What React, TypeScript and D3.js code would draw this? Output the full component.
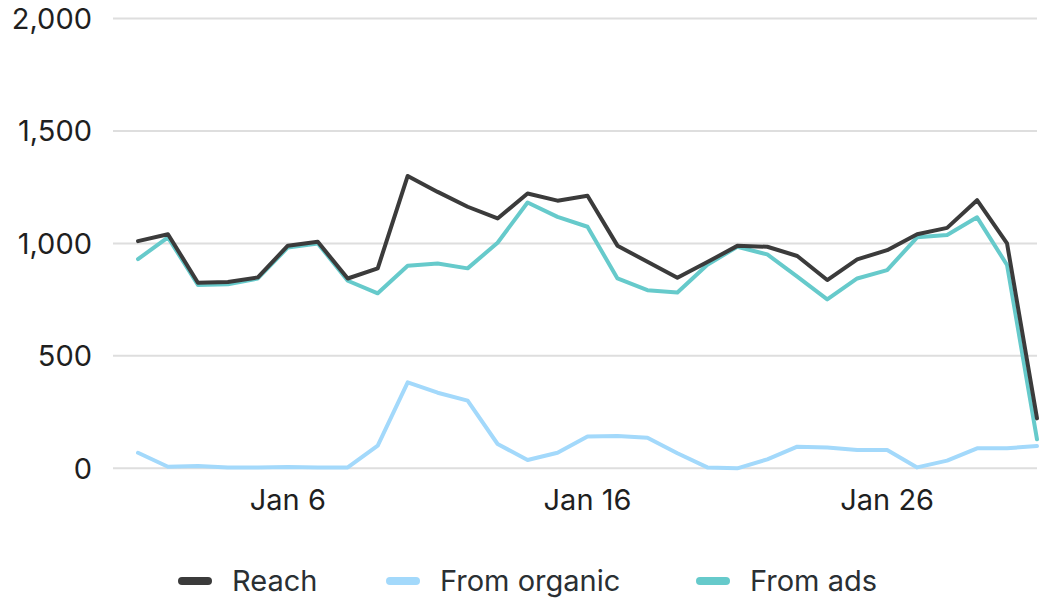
import React, { useEffect, useRef } from "react";
import * as d3 from "d3";

// daily values, Jan 1 - Jan 31
const days: string[] = d3.range(1, 32).map((d) => `2024-01-${String(d).padStart(2, "0")}`);

const reach: number[] = [
  1010, 1041, 825, 828, 849, 990, 1007, 844, 889, 1300,
  1229, 1163, 1111, 1222, 1190, 1212, 990, 918, 847, 917,
  989, 985, 944, 837, 929, 970, 1041, 1069, 1192, 1000, 222,
];

const fromOrganic: number[] = [
  69, 7, 10, 4, 4, 6, 4, 4, 101, 382,
  336, 301, 108, 37, 69, 141, 144, 136, 67, 4,
  0, 40, 96, 93, 81, 81, 4, 34, 89, 89, 99,
];

const fromAds: number[] = [
  930, 1027, 815, 818, 844, 982, 1000, 834, 778, 901,
  911, 889, 1003, 1182, 1118, 1074, 844, 792, 782, 905,
  985, 951, 852, 751, 844, 881, 1027, 1037, 1116, 904, 129,
];

const yTicks: number[] = [0, 500, 1000, 1500, 2000];
const xTickDays: string[] = ["2024-01-06", "2024-01-16", "2024-01-26"];

const seriesNames: string[] = ["Reach", "From organic", "From ads"];
const seriesColors: string[] = ["#3b3b3b", "#a3d9fb", "#66cacb"];

const W = 1043;
const H = 602;
const FONT = "Inter, 'Noto Sans', sans-serif";
const FS = 29;

export default function App() {
  const ref = useRef<SVGSVGElement | null>(null);

  useEffect(() => {
    document.body.style.margin = "0";
    const svg = d3.select(ref.current);
    svg.selectAll("*").remove();

    const parse = d3.timeParse("%Y-%m-%d");
    const dates = days.map((d) => parse(d) as Date);

    const x = d3
      .scaleTime()
      .domain([dates[0], dates[dates.length - 1]])
      .range([138, 1037]);
    const y = d3.scaleLinear().domain([0, 2000]).range([468.3, 18.5]);

    // grid + y labels
    const grid = svg.append("g");
    grid
      .selectAll("line")
      .data(yTicks)
      .enter()
      .append("line")
      .attr("x1", 113)
      .attr("x2", 1037)
      .attr("y1", (d) => y(d))
      .attr("y2", (d) => y(d))
      .attr("stroke", "#dedede")
      .attr("stroke-width", 2);
    grid
      .selectAll("text")
      .data(yTicks)
      .enter()
      .append("text")
      .attr("x", 92)
      .attr("y", (d) => y(d))
      .attr("dy", "0.36em")
      .attr("text-anchor", "end")
      .attr("font-family", FONT)
      .attr("font-size", FS)
      .attr("fill", "#1f1f1f")
      .text((d) => d3.format(",")(d));

    // x labels
    svg
      .append("g")
      .selectAll("text")
      .data(xTickDays.map((d) => parse(d) as Date))
      .enter()
      .append("text")
      .attr("x", (d) => x(d))
      .attr("y", 510)
      .attr("text-anchor", "middle")
      .attr("font-family", FONT)
      .attr("font-size", FS)
      .attr("fill", "#1f1f1f")
      .text((d) => d3.timeFormat("%b %-d")(d));

    // lines (draw reach last so it sits on top)
    const all = [reach, fromOrganic, fromAds];
    const order = [1, 2, 0];
    const line = d3
      .line<number>()
      .x((_, i) => x(dates[i]))
      .y((d) => y(d));
    order.forEach((k) => {
      svg
        .append("path")
        .datum(all[k])
        .attr("d", line)
        .attr("fill", "none")
        .attr("stroke", seriesColors[k])
        .attr("stroke-width", 4)
        .attr("stroke-linejoin", "round")
        .attr("stroke-linecap", "round");
    });

    // legend
    const legendX = [178, 386, 696];
    const leg = svg
      .append("g")
      .selectAll("g")
      .data(seriesNames)
      .enter()
      .append("g")
      .attr("transform", (_, i) => `translate(${legendX[i]},581)`);
    leg
      .append("line")
      .attr("x1", 4)
      .attr("x2", 30)
      .attr("stroke", (_, i) => seriesColors[i])
      .attr("stroke-width", 8)
      .attr("stroke-linecap", "round");
    leg
      .append("text")
      .attr("x", 54)
      .attr("dy", "0.36em")
      .attr("font-family", FONT)
      .attr("font-size", FS)
      .attr("fill", "#2a2f33")
      .text((d) => d);
  }, []);

  return <svg ref={ref} width={W} height={H} style={{ display: "block" }} />;
}
